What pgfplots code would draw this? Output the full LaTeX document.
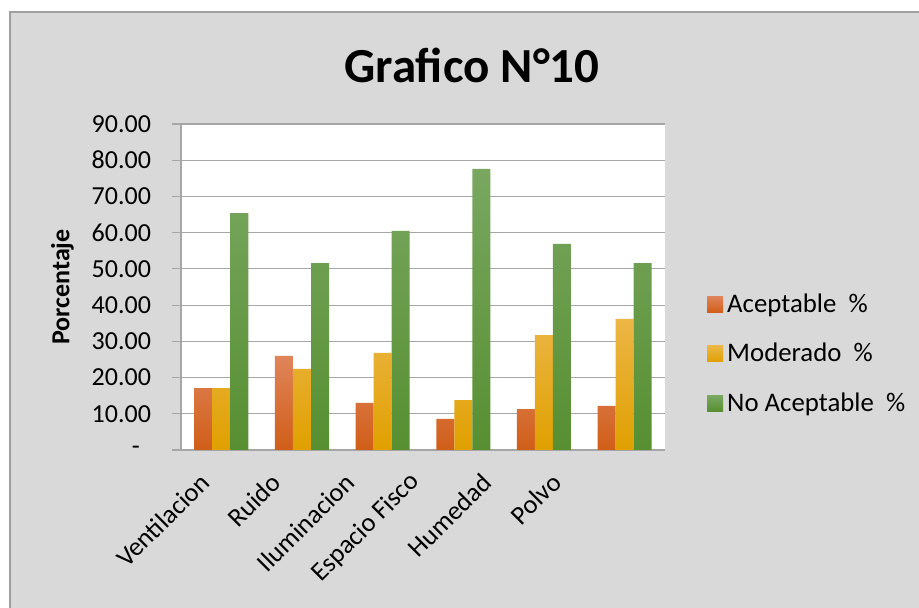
\documentclass[border=0pt]{standalone}
\usepackage{fontspec}
\setmainfont{Carlito}
\usepackage{pgfplots}
\pgfplotsset{compat=1.18}
\definecolor{bgc}{HTML}{D9D9D9}
\definecolor{bordc}{HTML}{A0A0A0}
\definecolor{gridc}{HTML}{A6A6A6}
\definecolor{orT}{HTML}{E0845A}
\definecolor{orB}{HTML}{D05E18}
\definecolor{yeT}{HTML}{EBB646}
\definecolor{yeB}{HTML}{E0A000}
\definecolor{grT}{HTML}{79A760}
\definecolor{grB}{HTML}{578F31}
\begin{document}
\begin{tikzpicture}
\useasboundingbox (0,0) rectangle (459.5pt,304pt);
\fill[bgc] (4.5pt,0) rectangle (460pt,298pt);
\draw[line width=1pt, color=bordc] (5pt,-1pt) -- (5pt,298pt) -- (461pt,298pt);
\node[font=\bfseries\fontsize{24.5}{28}\selectfont] at (236pt,271.5pt) {Grafico N°10};
\begin{axis}[at={(90.5pt,79pt)}, anchor=south west, scale only axis,
  width=242pt, height=163pt,
  ymin=0, ymax=90, xmin=-0.5, xmax=5.5,
  ybar=0pt, bar width=9pt,
  xtick={-0.215,0.665,1.583,2.40,3.281,4.149},
  xticklabels={Ventilacion,Ruido,Iluminacion,Espacio Fisco,Humedad,Polvo},
  x tick style={draw=none},
  ytick={0,10,...,90},
  yticklabels={{-\hspace{5.5pt}\mbox{}},10.00,20.00,30.00,40.00,50.00,60.00,70.00,80.00,90.00},
  tick align=outside, major tick length=4.5pt,
  y tick style={gridc, line width=0.6pt},
  ymajorgrids, grid style={gridc, line width=0.6pt},
  axis x line*=bottom, axis y line*=left,
  axis line style={gridc, line width=0.6pt, -},
  axis background/.style={fill=white},
  yticklabel style={font=\fontsize{13}{15}\selectfont, anchor=east, xshift=-7pt},
  xticklabel style={font=\fontsize{13.2}{15}\selectfont, rotate=45, anchor=east, xshift=-3pt, yshift=-7pt},
  ylabel={Porcentaje},
  ylabel style={font=\bfseries\fontsize{13}{15}\selectfont, at={(axis description cs:-0.245,0.5)}, anchor=center},
  legend style={at={(axis description cs:1.074,0.506)}, anchor=north west, draw=none, fill=none,
    font=\fontsize{13.4}{15}\selectfont, row sep=10pt},
  legend cell align=left,
  legend image code/.code={\fill[#1] (0pt,-4pt) rectangle (8pt,4pt);},
]
\addplot[draw=none, top color=orT, bottom color=orB] coordinates {(0,17.1) (1,26.0) (2,13.0) (3,8.6) (4,11.3) (5,12.2)};
\addplot[draw=none, top color=yeT, bottom color=yeB] coordinates {(0,17.1) (1,22.4) (2,26.8) (3,13.8) (4,31.7) (5,36.2)};
\addplot[draw=none, top color=grT, bottom color=grB] coordinates {(0,65.4) (1,51.6) (2,60.5) (3,77.6) (4,56.9) (5,51.6)};
\legend{Aceptable\ \ \%, Moderado\ \ \%, No Aceptable\ \ \%}
\end{axis}
\end{tikzpicture}
\end{document}
